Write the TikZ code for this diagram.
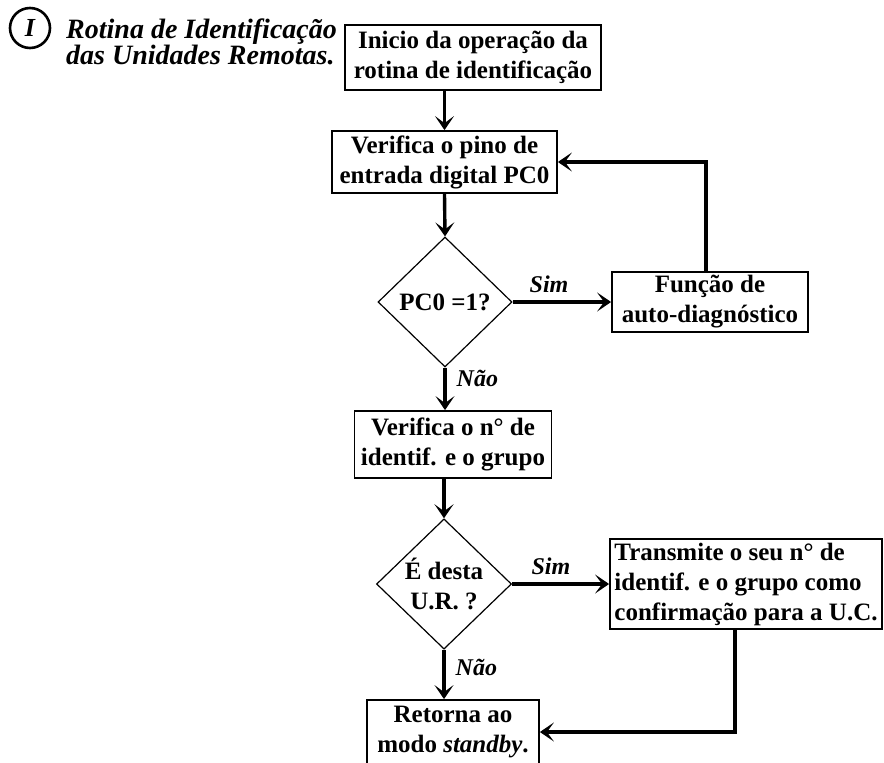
\documentclass[tikz,border=0pt]{standalone}
\usepackage{fontspec}
\setmainfont{Liberation Serif}
\usetikzlibrary{shapes.geometric,arrows.meta,calc}
\tikzset{
  boxnode/.style={draw, line width=1.8pt, font=\bfseries\fontsize{25}{30}\selectfont, align=center, inner sep=2pt},
  decision/.style={draw, line width=1.2pt, shape=diamond, inner sep=0pt, font=\bfseries\fontsize{25}{30}\selectfont, align=center},
  conn/.style={line width=3.4pt, -{Stealth[length=14pt,width=19pt,inset=7pt]}},
  lbl/.style={font=\bfseries\itshape\fontsize{24}{26}\selectfont, inner sep=0pt},
}
\begin{document}
\begin{tikzpicture}[x=1pt,y=-1pt]
\useasboundingbox[fill=white] (0,0) rectangle (884,763);
% title
\node[draw, circle, line width=2.6pt, minimum size=40pt, inner sep=0pt, font=\bfseries\itshape\fontsize{26}{26}\selectfont] (num) at (30,28) {I};
\node[anchor=west, align=left, inner sep=0pt, font=\bfseries\itshape\fontsize{28}{25}\selectfont] (title) at (66,42) {Rotina de Identificação\\das Unidades Remotas.};
% boxes
\node[boxnode, minimum width=256pt, minimum height=65pt] (b1) at (473,57.5) {Inicio da operação da\\rotina de identificação};
\node[boxnode, minimum width=225pt, minimum height=62pt] (b2) at (444.5,162) {Verifica o pino de\\entrada digital PC0};
\node[decision, minimum width=134pt, minimum height=130pt] (d1) at (445,302) {PC0 =1?};
\node[boxnode, minimum width=196pt, minimum height=60pt] (fn) at (710,302) {Função de\\auto-diagnóstico};
\node[boxnode, minimum width=197pt, minimum height=67pt] (b3) at (453,444.5) {Verifica o n° de\\identif. e o grupo};
\node[decision, minimum width=135pt, minimum height=130pt] (d2) at (444,584) {É desta\\U.R. ?};
\node[boxnode, align=left, minimum width=272pt, minimum height=90pt] (tx) at (746,584) {Transmite o seu n° de\\identif. e o grupo como\\confirmação para a U.C.};
\node[boxnode, minimum width=172pt, minimum height=64pt] (b5) at (453,732) {Retorna ao\\modo \textit{standby}.};
% connectors
\draw[conn] (b1.south -| b2.north) -- (b2.north);
\draw[conn] (b2.south) -- (d1.north);
\draw[conn] (d1.east) -- (fn.west) node[lbl, pos=0.37, above=8pt] (s1) {Sim};
\coordinate (fnup) at ([xshift=-4pt]fn.north);
\draw[conn] (fnup) |- (b2.east);
\draw[conn] (d1.south) -- (d1.south |- b3.north) node[lbl, pos=0.25, right=10pt] (n1) {Não};
\draw[conn] (b3.south -| d2.north) -- (d2.north);
\draw[conn] (d2.east) -- (tx.west) node[lbl, pos=0.4, above=8pt] (s2) {Sim};
\draw[conn] (d2.south) -- (d2.south |- b5.north) node[lbl, pos=0.35, right=10pt] (n2) {Não};
\coordinate (txdn) at ([xshift=-11pt]tx.south);
\draw[conn] (txdn) |- (b5.east);
\end{tikzpicture}
\end{document}
